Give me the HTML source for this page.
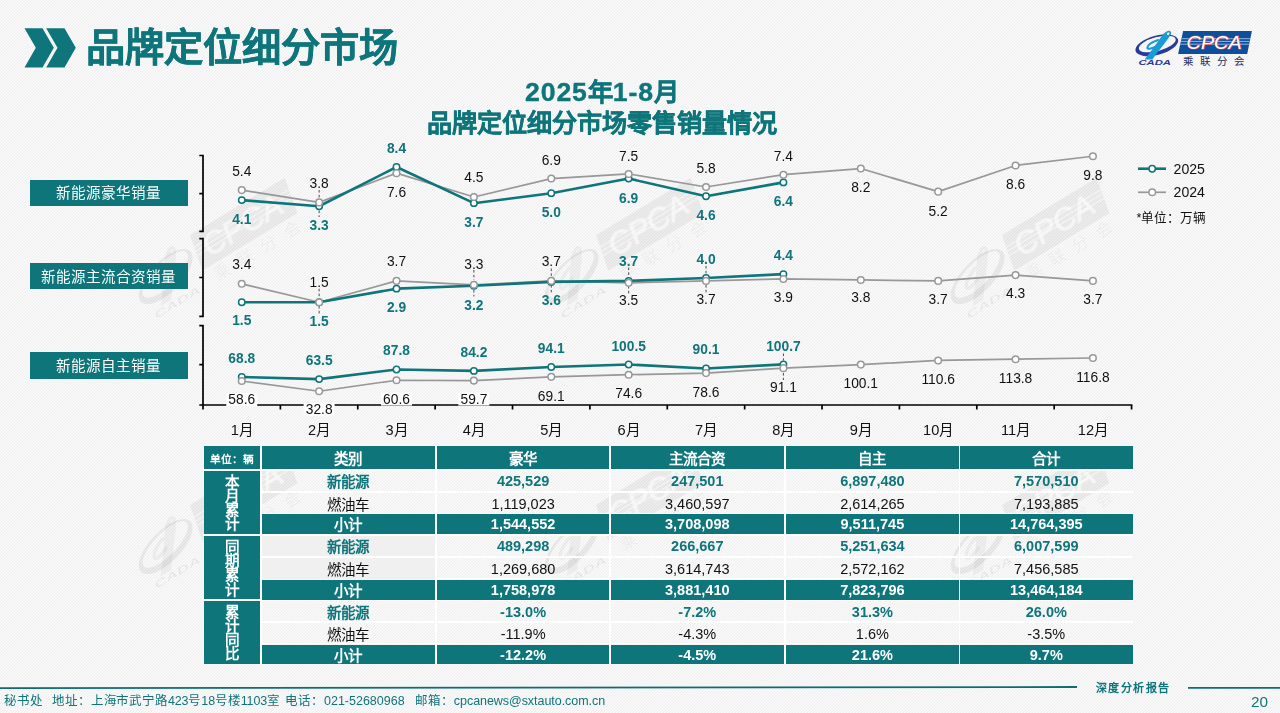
<!DOCTYPE html>
<html lang="zh-CN">
<head>
<meta charset="utf-8">
<title>品牌定位细分市场</title>
<style>
*{margin:0;padding:0;box-sizing:border-box;}
html,body{width:1280px;height:713px;overflow:hidden;}
body{font-family:"Liberation Sans",sans-serif;color:#000;background:#f5f5f5;}
#page{position:relative;width:1280px;height:713px;overflow:hidden;
  background:#f5f5f5;}
.abs{position:absolute;white-space:nowrap;}
#page *{-webkit-font-smoothing:antialiased;}
.abs,.cell,#chart,#foot{will-change:transform;}
.teal{color:#0e757b;}
#title{left:86px;top:20.3px;font-size:39.2px;letter-spacing:0.3px;-webkit-text-stroke:0.5px #0e757b;font-weight:bold;line-height:56px;letter-spacing:0;}
#ct1{left:402px;width:400px;text-align:center;top:74.6px;font-size:25.3px;font-weight:bold;line-height:34px;-webkit-text-stroke:0.4px #0e757b;}
#ct1 .d{font-size:26.6px;letter-spacing:0.9px;}
#ct2{left:402px;width:400px;text-align:center;top:104.6px;font-size:25.1px;font-weight:bold;line-height:36px;-webkit-text-stroke:0.4px #0e757b;}
.lbl{left:30.4px;width:157.8px;background:#0e757b;color:#fff;font-size:14.55px;text-align:center;padding-top:1px;}
svg{position:absolute;left:0;top:0;}
svg text{font-family:"Liberation Sans",sans-serif;}
/* table */
.wl{position:absolute;background:#fff;}
.cell{position:absolute;text-align:center;white-space:nowrap;font-size:14.5px;overflow:hidden;}
.hd{background:#0e757b;color:#fff;font-weight:bold;}
.nev{color:#0e757b;font-weight:bold;}
.reg{color:#111;}
.cell{padding-top:0.6px;}
.cell.cj{padding-top:2px;}
.cell.unit{padding-top:1.6px;}
.cell.vert{padding-top:1.5px;}
.unit{font-size:10.7px;}
.vert{display:flex;align-items:center;justify-content:center;}
.vert span{display:block;line-height:14.3px;font-size:14.6px;}
#foot{position:absolute;left:0;top:692px;font-size:12.5px;line-height:18px;color:#0e757b;}
#pageno{left:1250.6px;top:692.2px;font-size:15.3px;line-height:20px;color:#0e757b;}
#deep{left:1095.5px;top:679.6px;font-size:11px;line-height:16px;color:#0e757b;font-family:"Liberation Serif",serif;font-weight:bold;letter-spacing:1.4px;}
</style>
</head>
<body>
<div id="page">

<!-- SVG defs: logo -->
<svg width="0" height="0" style="position:absolute">
  <defs>
    <symbol id="logo" viewBox="0 0 150 60" overflow="visible">
      <!-- crescent ellipse ring -->
      <g transform="rotate(-15 36.8 25.3)">
        <path fill-rule="evenodd" fill="var(--c1)" d="M14.8 25.3 a22 9.6 0 1 0 44 0 a22 9.6 0 1 0 -44 0 Z M18.6 24.2 a19 6.9 0 1 0 38 0 a19 6.9 0 1 0 -38 0 Z"/>
      </g>
      <!-- swoosh -->
      <path d="M46.5 11.6 C49.5 9.6 52.3 11.6 50.6 14.8 C46.5 22 40 28.5 32.4 39.4 L24.6 39.4 C32 30.5 38.5 20.5 43.5 13.8 Z" fill="var(--c2)"/>
      <ellipse cx="48.2" cy="13.7" rx="1.5" ry="1.1" fill="var(--c8)" transform="rotate(-40 48.2 13.7)"/>
      <path d="M38 20 C32 22 27.6 25.2 27.3 27.8 C28 29.6 32 28.4 36.5 26.3" fill="none" stroke="var(--c2)" stroke-width="2.1" stroke-linecap="round"/>
      <!-- CADA -->
      <text x="18.4" y="44.9" font-size="6.4" font-weight="bold" font-style="italic" fill="var(--c1)" textLength="32.5" lengthAdjust="spacingAndGlyphs">CADA</text>
      <!-- parallelogram -->
      <path d="M63.1 11 L131.9 11 L127.2 34 L58.1 34 Z" fill="var(--c3)"/>
      <path d="M61.4 18.7 L130.3 18.7 M60.8 21.4 L129.7 21.4 M60.2 24.2 L129.2 24.2" stroke="var(--c5)" stroke-width="0.9" fill="none"/>
      <text x="66.6" y="29" font-size="19" font-style="italic" fill="var(--c6)" stroke="var(--c4)" stroke-width="1" paint-order="stroke" textLength="55" lengthAdjust="spacingAndGlyphs">CPCA</text>
      <text x="63.2" y="44.6" font-size="10.5" fill="var(--c7)" textLength="61" lengthAdjust="spacing">乘联分会</text>
    </symbol>
  </defs>
</svg>

<!-- BG -->
<svg width="1280" height="713" viewBox="0 0 1280 713" shape-rendering="crispEdges">
  <defs>
    <pattern id="stripe" width="3" height="3" patternUnits="userSpaceOnUse">
      <rect width="3" height="3" fill="#f0f0f0"/>
      <rect x="0" y="2" width="1" height="1" fill="#fbfbfb"/><rect x="1" y="1" width="1" height="1" fill="#fbfbfb"/><rect x="2" y="0" width="1" height="1" fill="#fbfbfb"/>
      <rect x="0" y="0" width="1" height="1" fill="#f5f5f5"/><rect x="1" y="2" width="1" height="1" fill="#f5f5f5"/><rect x="2" y="1" width="1" height="1" fill="#f5f5f5"/>
    </pattern>
  </defs>
  <rect width="1280" height="713" fill="url(#stripe)"/>
</svg>
<svg id="wm" width="1280" height="713" viewBox="0 0 1280 713" style="--c1:rgba(0,0,0,0.06);--c2:rgba(0,0,0,0.04);--c3:rgba(0,0,0,0.05);--c4:rgba(255,255,255,0.3);--c5:rgba(255,255,255,0.45);--c6:rgba(255,255,255,0.55);--c7:rgba(0,0,0,0.055);--c8:rgba(255,255,255,0.3);">
  <g transform="translate(93.9 272.5) rotate(-31.2) scale(1.61)"><use href="#logo" width="150" height="60"/></g>
  <g transform="translate(499.9 272.5) rotate(-31.2) scale(1.61)"><use href="#logo" width="150" height="60"/></g>
  <g transform="translate(905.9 272.5) rotate(-31.2) scale(1.61)"><use href="#logo" width="150" height="60"/></g>
  <g transform="translate(93.9 542.5) rotate(-31.2) scale(1.61)"><use href="#logo" width="150" height="60"/></g>
  <g transform="translate(499.9 542.5) rotate(-31.2) scale(1.61)"><use href="#logo" width="150" height="60"/></g>
  <g transform="translate(905.9 542.5) rotate(-31.2) scale(1.61)"><use href="#logo" width="150" height="60"/></g>
</svg>
<!-- /BG -->

<!-- header -->
<svg width="100" height="80" viewBox="0 0 100 80">
  <path d="M24.5 28.2 L42.5 28.2 L53.8 47.7 L42.5 67.5 L24.5 67.5 L35.8 47.7 Z" fill="#0e757b"/>
  <path d="M46.2 28.2 L64.5 28.2 L75.8 47.7 L64.5 67.5 L46.2 67.5 L57.5 47.7 Z" fill="#0e757b"/>
</svg>
<div id="title" class="abs teal">品牌定位细分市场</div>
<svg width="150" height="60" viewBox="0 0 150 60" style="left:1120px;top:20px;--c1:#2a3a9a;--c2:#1a9ad6;--c3:#0d4f9a;--c4:#e8404a;--c5:#9fc3e6;--c6:#ffffff;--c7:#1f2a5a;--c8:#f5f5f5;"><use href="#logo" width="150" height="60"/></svg>

<div id="ct1" class="abs teal"><span class="d">2025</span>年<span class="d">1-8</span>月</div>
<div id="ct2" class="abs teal">品牌定位细分市场零售销量情况</div>

<!-- CHART -->
<div class="abs lbl" style="top:180.2px;height:25.6px;line-height:25.6px">新能源豪华销量</div>
<div class="abs lbl" style="top:262.6px;height:26.4px;line-height:26.4px">新能源主流合资销量</div>
<div class="abs lbl" style="top:351.8px;height:26.5px;line-height:26.5px">新能源自主销量</div>
<svg id="chart" width="1280" height="713" viewBox="0 0 1280 713">
<g stroke="#000" stroke-width="1.7" fill="none">
<path d="M199.3 155.5 H203 V231.4 H199.3 M199.3 193.7 H203"/>
<path d="M199.3 238.7 H203 V316.3 H199.3 M199.3 277.5 H203"/>
<path d="M199.3 325.7 H203 V405 M199.3 364.7 H203"/>
<path d="M199.3 405 H1132.4"/>
<path d="M203.00 405 V409.6 M280.38 405 V409.6 M357.76 405 V409.6 M435.14 405 V409.6 M512.52 405 V409.6 M589.90 405 V409.6 M667.28 405 V409.6 M744.66 405 V409.6 M822.04 405 V409.6 M899.42 405 V409.6 M976.80 405 V409.6 M1054.18 405 V409.6 M1131.56 405 V409.6 "/>
</g>
<rect x="226.25" y="393.05" width="31" height="13" fill="#fdfdfd"/>
<rect x="303.63" y="403.05" width="31" height="13" fill="#fdfdfd"/>
<rect x="381.01" y="392.55" width="31" height="13" fill="#fdfdfd"/>
<rect x="458.39" y="392.55" width="31" height="13" fill="#fdfdfd"/>
<g stroke="#222" stroke-width="0.8" stroke-dasharray="2.6 2.2" fill="none">
<path d="M319.13 190 V198.5"/>
<path d="M319.13 210.5 V217"/>
<path d="M319.13 288.75 V297.5"/>
<path d="M319.13 306 V315"/>
<path d="M473.89 270 V280"/>
<path d="M473.89 290 V296.5"/>
<path d="M551.27 268.5 V277.5"/>
<path d="M551.27 285 V293"/>
<path d="M628.65 267.5 V276.5"/>
<path d="M628.65 286 V294"/>
<path d="M706.03 266 V273.5"/>
<path d="M706.03 285 V292.5"/>
<path d="M783.41 353.5 V360.5"/>
<path d="M783.41 373 V380"/>
</g>
<path d="M241.75 190.09 L319.13 202.41 L396.51 173.16 L473.89 197.02 L551.27 178.55 L628.65 173.93 L706.03 187.01 L783.41 174.70 L860.79 168.54 L938.17 191.63 L1015.55 165.46 L1092.93 156.23" fill="none" stroke="#989898" stroke-width="1.7" stroke-linejoin="round"/>
<path d="M241.75 200.10 L319.13 206.25 L396.51 167.00 L473.89 203.17 L551.27 193.17 L628.65 178.55 L706.03 196.25 L783.41 182.40" fill="none" stroke="#0e757b" stroke-width="2.6" stroke-linejoin="round"/>
<circle cx="241.75" cy="200.10" r="3.2" fill="#fff" stroke="#0e757b" stroke-width="1.5"/>
<circle cx="319.13" cy="206.25" r="3.2" fill="#fff" stroke="#0e757b" stroke-width="1.5"/>
<circle cx="396.51" cy="167.00" r="3.2" fill="#fff" stroke="#0e757b" stroke-width="1.5"/>
<circle cx="473.89" cy="203.17" r="3.2" fill="#fff" stroke="#0e757b" stroke-width="1.5"/>
<circle cx="551.27" cy="193.17" r="3.2" fill="#fff" stroke="#0e757b" stroke-width="1.5"/>
<circle cx="628.65" cy="178.55" r="3.2" fill="#fff" stroke="#0e757b" stroke-width="1.5"/>
<circle cx="706.03" cy="196.25" r="3.2" fill="#fff" stroke="#0e757b" stroke-width="1.5"/>
<circle cx="783.41" cy="182.40" r="3.2" fill="#fff" stroke="#0e757b" stroke-width="1.5"/>
<circle cx="241.75" cy="190.09" r="3.3" fill="#fff" stroke="#989898" stroke-width="1.5"/>
<circle cx="319.13" cy="202.41" r="3.3" fill="#fff" stroke="#989898" stroke-width="1.5"/>
<circle cx="396.51" cy="173.16" r="3.3" fill="#fff" stroke="#989898" stroke-width="1.5"/>
<circle cx="473.89" cy="197.02" r="3.3" fill="#fff" stroke="#989898" stroke-width="1.5"/>
<circle cx="551.27" cy="178.55" r="3.3" fill="#fff" stroke="#989898" stroke-width="1.5"/>
<circle cx="628.65" cy="173.93" r="3.3" fill="#fff" stroke="#989898" stroke-width="1.5"/>
<circle cx="706.03" cy="187.01" r="3.3" fill="#fff" stroke="#989898" stroke-width="1.5"/>
<circle cx="783.41" cy="174.70" r="3.3" fill="#fff" stroke="#989898" stroke-width="1.5"/>
<circle cx="860.79" cy="168.54" r="3.3" fill="#fff" stroke="#989898" stroke-width="1.5"/>
<circle cx="938.17" cy="191.63" r="3.3" fill="#fff" stroke="#989898" stroke-width="1.5"/>
<circle cx="1015.55" cy="165.46" r="3.3" fill="#fff" stroke="#989898" stroke-width="1.5"/>
<circle cx="1092.93" cy="156.23" r="3.3" fill="#fff" stroke="#989898" stroke-width="1.5"/>
<path d="M241.75 283.82 L319.13 302.25 L396.51 280.91 L473.89 284.79 L551.27 280.91 L628.65 282.85 L706.03 280.91 L783.41 278.97 L860.79 279.94 L938.17 280.91 L1015.55 275.09 L1092.93 280.91" fill="none" stroke="#989898" stroke-width="1.7" stroke-linejoin="round"/>
<path d="M241.75 302.25 L319.13 302.25 L396.51 288.67 L473.89 285.76 L551.27 281.88 L628.65 280.91 L706.03 278.00 L783.41 274.12" fill="none" stroke="#0e757b" stroke-width="2.6" stroke-linejoin="round"/>
<circle cx="241.75" cy="302.25" r="3.2" fill="#fff" stroke="#0e757b" stroke-width="1.5"/>
<circle cx="319.13" cy="302.25" r="3.2" fill="#fff" stroke="#0e757b" stroke-width="1.5"/>
<circle cx="396.51" cy="288.67" r="3.2" fill="#fff" stroke="#0e757b" stroke-width="1.5"/>
<circle cx="473.89" cy="285.76" r="3.2" fill="#fff" stroke="#0e757b" stroke-width="1.5"/>
<circle cx="551.27" cy="281.88" r="3.2" fill="#fff" stroke="#0e757b" stroke-width="1.5"/>
<circle cx="628.65" cy="280.91" r="3.2" fill="#fff" stroke="#0e757b" stroke-width="1.5"/>
<circle cx="706.03" cy="278.00" r="3.2" fill="#fff" stroke="#0e757b" stroke-width="1.5"/>
<circle cx="783.41" cy="274.12" r="3.2" fill="#fff" stroke="#0e757b" stroke-width="1.5"/>
<circle cx="241.75" cy="283.82" r="3.3" fill="#fff" stroke="#989898" stroke-width="1.5"/>
<circle cx="319.13" cy="302.25" r="3.3" fill="#fff" stroke="#989898" stroke-width="1.5"/>
<circle cx="396.51" cy="280.91" r="3.3" fill="#fff" stroke="#989898" stroke-width="1.5"/>
<circle cx="473.89" cy="284.79" r="3.3" fill="#fff" stroke="#989898" stroke-width="1.5"/>
<circle cx="551.27" cy="280.91" r="3.3" fill="#fff" stroke="#989898" stroke-width="1.5"/>
<circle cx="628.65" cy="282.85" r="3.3" fill="#fff" stroke="#989898" stroke-width="1.5"/>
<circle cx="706.03" cy="280.91" r="3.3" fill="#fff" stroke="#989898" stroke-width="1.5"/>
<circle cx="783.41" cy="278.97" r="3.3" fill="#fff" stroke="#989898" stroke-width="1.5"/>
<circle cx="860.79" cy="279.94" r="3.3" fill="#fff" stroke="#989898" stroke-width="1.5"/>
<circle cx="938.17" cy="280.91" r="3.3" fill="#fff" stroke="#989898" stroke-width="1.5"/>
<circle cx="1015.55" cy="275.09" r="3.3" fill="#fff" stroke="#989898" stroke-width="1.5"/>
<circle cx="1092.93" cy="280.91" r="3.3" fill="#fff" stroke="#989898" stroke-width="1.5"/>
<path d="M241.75 381.02 L319.13 391.23 L396.51 380.23 L473.89 380.59 L551.27 376.87 L628.65 374.70 L706.03 373.11 L783.41 368.17 L860.79 364.61 L938.17 360.46 L1015.55 359.19 L1092.93 358.01" fill="none" stroke="#989898" stroke-width="1.7" stroke-linejoin="round"/>
<path d="M241.75 376.99 L319.13 379.09 L396.51 369.48 L473.89 370.90 L551.27 366.98 L628.65 364.45 L706.03 368.57 L783.41 364.37" fill="none" stroke="#0e757b" stroke-width="2.6" stroke-linejoin="round"/>
<circle cx="241.75" cy="376.99" r="3.2" fill="#fff" stroke="#0e757b" stroke-width="1.5"/>
<circle cx="319.13" cy="379.09" r="3.2" fill="#fff" stroke="#0e757b" stroke-width="1.5"/>
<circle cx="396.51" cy="369.48" r="3.2" fill="#fff" stroke="#0e757b" stroke-width="1.5"/>
<circle cx="473.89" cy="370.90" r="3.2" fill="#fff" stroke="#0e757b" stroke-width="1.5"/>
<circle cx="551.27" cy="366.98" r="3.2" fill="#fff" stroke="#0e757b" stroke-width="1.5"/>
<circle cx="628.65" cy="364.45" r="3.2" fill="#fff" stroke="#0e757b" stroke-width="1.5"/>
<circle cx="706.03" cy="368.57" r="3.2" fill="#fff" stroke="#0e757b" stroke-width="1.5"/>
<circle cx="783.41" cy="364.37" r="3.2" fill="#fff" stroke="#0e757b" stroke-width="1.5"/>
<circle cx="241.75" cy="381.02" r="3.3" fill="#fff" stroke="#989898" stroke-width="1.5"/>
<circle cx="319.13" cy="391.23" r="3.3" fill="#fff" stroke="#989898" stroke-width="1.5"/>
<circle cx="396.51" cy="380.23" r="3.3" fill="#fff" stroke="#989898" stroke-width="1.5"/>
<circle cx="473.89" cy="380.59" r="3.3" fill="#fff" stroke="#989898" stroke-width="1.5"/>
<circle cx="551.27" cy="376.87" r="3.3" fill="#fff" stroke="#989898" stroke-width="1.5"/>
<circle cx="628.65" cy="374.70" r="3.3" fill="#fff" stroke="#989898" stroke-width="1.5"/>
<circle cx="706.03" cy="373.11" r="3.3" fill="#fff" stroke="#989898" stroke-width="1.5"/>
<circle cx="783.41" cy="368.17" r="3.3" fill="#fff" stroke="#989898" stroke-width="1.5"/>
<circle cx="860.79" cy="364.61" r="3.3" fill="#fff" stroke="#989898" stroke-width="1.5"/>
<circle cx="938.17" cy="360.46" r="3.3" fill="#fff" stroke="#989898" stroke-width="1.5"/>
<circle cx="1015.55" cy="359.19" r="3.3" fill="#fff" stroke="#989898" stroke-width="1.5"/>
<circle cx="1092.93" cy="358.01" r="3.3" fill="#fff" stroke="#989898" stroke-width="1.5"/>
<g font-size="15.4" text-anchor="middle">
<text transform="translate(241.75 176) scale(0.896 1)" fill="#111">5.4</text>
<text transform="translate(319.13 187.5) scale(0.896 1)" fill="#111">3.8</text>
<text transform="translate(396.51 197) scale(0.896 1)" fill="#111">7.6</text>
<text transform="translate(473.89 182) scale(0.896 1)" fill="#111">4.5</text>
<text transform="translate(551.27 164.5) scale(0.896 1)" fill="#111">6.9</text>
<text transform="translate(628.65 160.5) scale(0.896 1)" fill="#111">7.5</text>
<text transform="translate(706.03 173) scale(0.896 1)" fill="#111">5.8</text>
<text transform="translate(783.41 161.25) scale(0.896 1)" fill="#111">7.4</text>
<text transform="translate(860.79 191.75) scale(0.896 1)" fill="#111">8.2</text>
<text transform="translate(938.17 215.5) scale(0.896 1)" fill="#111">5.2</text>
<text transform="translate(1015.55 188.75) scale(0.896 1)" fill="#111">8.6</text>
<text transform="translate(1092.93 180) scale(0.896 1)" fill="#111">9.8</text>
<text transform="translate(241.75 223.85) scale(0.896 1)" fill="#0e757b" font-weight="bold">4.1</text>
<text transform="translate(319.13 229.6) scale(0.896 1)" fill="#0e757b" font-weight="bold">3.3</text>
<text transform="translate(396.51 153.1) scale(0.896 1)" fill="#0e757b" font-weight="bold">8.4</text>
<text transform="translate(473.89 226.85) scale(0.896 1)" fill="#0e757b" font-weight="bold">3.7</text>
<text transform="translate(551.27 217.35) scale(0.896 1)" fill="#0e757b" font-weight="bold">5.0</text>
<text transform="translate(628.65 202.6) scale(0.896 1)" fill="#0e757b" font-weight="bold">6.9</text>
<text transform="translate(706.03 220.1) scale(0.896 1)" fill="#0e757b" font-weight="bold">4.6</text>
<text transform="translate(783.41 206.1) scale(0.896 1)" fill="#0e757b" font-weight="bold">6.4</text>
<text transform="translate(241.75 268.75) scale(0.896 1)" fill="#111">3.4</text>
<text transform="translate(319.13 287) scale(0.896 1)" fill="#111">1.5</text>
<text transform="translate(396.51 266.25) scale(0.896 1)" fill="#111">3.7</text>
<text transform="translate(473.89 269.25) scale(0.896 1)" fill="#111">3.3</text>
<text transform="translate(551.27 265.5) scale(0.896 1)" fill="#111">3.7</text>
<text transform="translate(628.65 305.25) scale(0.896 1)" fill="#111">3.5</text>
<text transform="translate(706.03 303.5) scale(0.896 1)" fill="#111">3.7</text>
<text transform="translate(783.41 301.5) scale(0.896 1)" fill="#111">3.9</text>
<text transform="translate(860.79 302) scale(0.896 1)" fill="#111">3.8</text>
<text transform="translate(938.17 303.75) scale(0.896 1)" fill="#111">3.7</text>
<text transform="translate(1015.55 298) scale(0.896 1)" fill="#111">4.3</text>
<text transform="translate(1092.93 303.75) scale(0.896 1)" fill="#111">3.7</text>
<text transform="translate(241.75 325.1) scale(0.896 1)" fill="#0e757b" font-weight="bold">1.5</text>
<text transform="translate(319.13 325.6) scale(0.896 1)" fill="#0e757b" font-weight="bold">1.5</text>
<text transform="translate(396.51 312.1) scale(0.896 1)" fill="#0e757b" font-weight="bold">2.9</text>
<text transform="translate(473.89 309.6) scale(0.896 1)" fill="#0e757b" font-weight="bold">3.2</text>
<text transform="translate(551.27 304.6) scale(0.896 1)" fill="#0e757b" font-weight="bold">3.6</text>
<text transform="translate(628.65 265.6) scale(0.896 1)" fill="#0e757b" font-weight="bold">3.7</text>
<text transform="translate(706.03 264.1) scale(0.896 1)" fill="#0e757b" font-weight="bold">4.0</text>
<text transform="translate(783.41 260.1) scale(0.896 1)" fill="#0e757b" font-weight="bold">4.4</text>
<text transform="translate(241.75 404.25) scale(0.896 1)" fill="#111">58.6</text>
<text transform="translate(319.13 414.25) scale(0.896 1)" fill="#111">32.8</text>
<text transform="translate(396.51 403.75) scale(0.896 1)" fill="#111">60.6</text>
<text transform="translate(473.89 403.75) scale(0.896 1)" fill="#111">59.7</text>
<text transform="translate(551.27 400.5) scale(0.896 1)" fill="#111">69.1</text>
<text transform="translate(628.65 398) scale(0.896 1)" fill="#111">74.6</text>
<text transform="translate(706.03 396.5) scale(0.896 1)" fill="#111">78.6</text>
<text transform="translate(783.41 391.75) scale(0.896 1)" fill="#111">91.1</text>
<text transform="translate(860.79 388) scale(0.896 1)" fill="#111">100.1</text>
<text transform="translate(938.17 383.75) scale(0.896 1)" fill="#111">110.6</text>
<text transform="translate(1015.55 382.5) scale(0.896 1)" fill="#111">113.8</text>
<text transform="translate(1092.93 381.5) scale(0.896 1)" fill="#111">116.8</text>
<text transform="translate(241.75 363.1) scale(0.896 1)" fill="#0e757b" font-weight="bold">68.8</text>
<text transform="translate(319.13 364.6) scale(0.896 1)" fill="#0e757b" font-weight="bold">63.5</text>
<text transform="translate(396.51 355.1) scale(0.896 1)" fill="#0e757b" font-weight="bold">87.8</text>
<text transform="translate(473.89 356.6) scale(0.896 1)" fill="#0e757b" font-weight="bold">84.2</text>
<text transform="translate(551.27 352.6) scale(0.896 1)" fill="#0e757b" font-weight="bold">94.1</text>
<text transform="translate(628.65 350.6) scale(0.896 1)" fill="#0e757b" font-weight="bold">100.5</text>
<text transform="translate(706.03 354.35) scale(0.896 1)" fill="#0e757b" font-weight="bold">90.1</text>
<text transform="translate(783.41 350.6) scale(0.896 1)" fill="#0e757b" font-weight="bold">100.7</text>
</g>
<g font-size="14.6" text-anchor="middle" fill="#111">
<text x="242.25" y="434.8">1月</text>
<text x="319.63" y="434.8">2月</text>
<text x="397.01" y="434.8">3月</text>
<text x="474.39" y="434.8">4月</text>
<text x="551.77" y="434.8">5月</text>
<text x="629.15" y="434.8">6月</text>
<text x="706.53" y="434.8">7月</text>
<text x="783.91" y="434.8">8月</text>
<text x="861.29" y="434.8">9月</text>
<text x="938.67" y="434.8">10月</text>
<text x="1016.05" y="434.8">11月</text>
<text x="1093.43" y="434.8">12月</text>
</g>
<path d="M1138 168.7 H1166" stroke="#0e757b" stroke-width="2.6"/>
<circle cx="1152.2" cy="168.7" r="3.2" fill="#fff" stroke="#0e757b" stroke-width="1.5"/>
<path d="M1138 192.3 H1166" stroke="#989898" stroke-width="1.7"/>
<circle cx="1152.2" cy="192.3" r="3.3" fill="#fff" stroke="#989898" stroke-width="1.5"/>
<text x="1173.6" y="173.8" font-size="14.1" fill="#111">2025</text>
<text x="1173.6" y="197.2" font-size="14.1" fill="#111">2024</text>
<text x="1136.5" y="221.6" font-size="12.6" fill="#111">*单位：万辆</text>
</svg>
<!-- /CHART -->

<!-- TABLE -->
<div id="tbl">
<div class="wl" style="left:203px;top:468.8px;width:930.5px;height:2.2px"></div>
<div class="wl" style="left:262.2px;top:490.9px;width:871.3px;height:1.9px"></div>
<div class="wl" style="left:262.2px;top:513px;width:871.3px;height:1.3px"></div>
<div class="wl" style="left:203px;top:533.9px;width:930.5px;height:2.1px"></div>
<div class="wl" style="left:262.2px;top:555.8px;width:871.3px;height:1.8px"></div>
<div class="wl" style="left:262.2px;top:578.1px;width:871.3px;height:1.4px"></div>
<div class="wl" style="left:203px;top:599px;width:930.5px;height:2px"></div>
<div class="wl" style="left:262.2px;top:621.3px;width:871.3px;height:1.6px"></div>
<div class="wl" style="left:262.2px;top:643.2px;width:871.3px;height:1.3px"></div>
<div class="wl" style="left:260.3px;top:446px;width:1.9px;height:217.8px"></div>
<div class="wl" style="left:435px;top:446px;width:2px;height:217.8px"></div>
<div class="wl" style="left:609.2px;top:446px;width:2px;height:217.8px"></div>
<div class="wl" style="left:783.8px;top:446px;width:2px;height:217.8px"></div>
<div class="wl" style="left:958.6px;top:446px;width:1.8px;height:217.8px"></div>
<div class="cell hd unit" style="left:204px;top:446px;width:56.3px;height:22.8px;line-height:22.8px;">单位：辆</div>
<div class="cell hd cj" style="left:262.2px;top:446px;width:172.8px;height:22.8px;line-height:22.8px;">类别</div>
<div class="cell hd cj" style="left:437px;top:446px;width:172.2px;height:22.8px;line-height:22.8px;">豪华</div>
<div class="cell hd cj" style="left:611.2px;top:446px;width:172.6px;height:22.8px;line-height:22.8px;">主流合资</div>
<div class="cell hd cj" style="left:785.8px;top:446px;width:172.8px;height:22.8px;line-height:22.8px;">自主</div>
<div class="cell hd cj" style="left:960.4px;top:446px;width:172.6px;height:22.8px;line-height:22.8px;">合计</div>
<div class="cell hd vert" style="left:204px;top:471px;width:56.3px;height:62.9px;"><span>本<br>月<br>累<br>计</span></div>
<div class="cell hd vert" style="left:204px;top:536px;width:56.3px;height:63px;"><span>同<br>期<br>累<br>计</span></div>
<div class="cell hd vert" style="left:204px;top:601px;width:56.3px;height:62.8px;"><span>累<br>计<br>同<br>比</span></div>
<div class="cell nev cj" style="left:262.2px;top:471px;width:172.8px;height:19.9px;line-height:19.9px;">新能源</div>
<div class="cell nev" style="left:437px;top:471px;width:172.2px;height:19.9px;line-height:19.9px;">425,529</div>
<div class="cell nev" style="left:611.2px;top:471px;width:172.6px;height:19.9px;line-height:19.9px;">247,501</div>
<div class="cell nev" style="left:785.8px;top:471px;width:172.8px;height:19.9px;line-height:19.9px;">6,897,480</div>
<div class="cell nev" style="left:960.4px;top:471px;width:172.6px;height:19.9px;line-height:19.9px;">7,570,510</div>
<div class="cell reg cj" style="left:262.2px;top:492.8px;width:172.8px;height:20.2px;line-height:20.2px;">燃油车</div>
<div class="cell reg" style="left:437px;top:492.8px;width:172.2px;height:20.2px;line-height:20.2px;">1,119,023</div>
<div class="cell reg" style="left:611.2px;top:492.8px;width:172.6px;height:20.2px;line-height:20.2px;">3,460,597</div>
<div class="cell reg" style="left:785.8px;top:492.8px;width:172.8px;height:20.2px;line-height:20.2px;">2,614,265</div>
<div class="cell reg" style="left:960.4px;top:492.8px;width:172.6px;height:20.2px;line-height:20.2px;">7,193,885</div>
<div class="cell hd cj" style="left:262.2px;top:514.3px;width:172.8px;height:19.6px;line-height:19.6px;">小计</div>
<div class="cell hd" style="left:437px;top:514.3px;width:172.2px;height:19.6px;line-height:19.6px;">1,544,552</div>
<div class="cell hd" style="left:611.2px;top:514.3px;width:172.6px;height:19.6px;line-height:19.6px;">3,708,098</div>
<div class="cell hd" style="left:785.8px;top:514.3px;width:172.8px;height:19.6px;line-height:19.6px;">9,511,745</div>
<div class="cell hd" style="left:960.4px;top:514.3px;width:172.6px;height:19.6px;line-height:19.6px;">14,764,395</div>
<div class="cell nev cj" style="left:262.2px;top:536px;width:172.8px;height:19.8px;line-height:19.8px;background:#f0f0f0;">新能源</div>
<div class="cell nev" style="left:437px;top:536px;width:172.2px;height:19.8px;line-height:19.8px;">489,298</div>
<div class="cell nev" style="left:611.2px;top:536px;width:172.6px;height:19.8px;line-height:19.8px;">266,667</div>
<div class="cell nev" style="left:785.8px;top:536px;width:172.8px;height:19.8px;line-height:19.8px;">5,251,634</div>
<div class="cell nev" style="left:960.4px;top:536px;width:172.6px;height:19.8px;line-height:19.8px;">6,007,599</div>
<div class="cell reg cj" style="left:262.2px;top:557.6px;width:172.8px;height:20.5px;line-height:20.5px;background:#f0f0f0;">燃油车</div>
<div class="cell reg" style="left:437px;top:557.6px;width:172.2px;height:20.5px;line-height:20.5px;">1,269,680</div>
<div class="cell reg" style="left:611.2px;top:557.6px;width:172.6px;height:20.5px;line-height:20.5px;">3,614,743</div>
<div class="cell reg" style="left:785.8px;top:557.6px;width:172.8px;height:20.5px;line-height:20.5px;">2,572,162</div>
<div class="cell reg" style="left:960.4px;top:557.6px;width:172.6px;height:20.5px;line-height:20.5px;">7,456,585</div>
<div class="cell hd cj" style="left:262.2px;top:579.5px;width:172.8px;height:19.5px;line-height:19.5px;">小计</div>
<div class="cell hd" style="left:437px;top:579.5px;width:172.2px;height:19.5px;line-height:19.5px;">1,758,978</div>
<div class="cell hd" style="left:611.2px;top:579.5px;width:172.6px;height:19.5px;line-height:19.5px;">3,881,410</div>
<div class="cell hd" style="left:785.8px;top:579.5px;width:172.8px;height:19.5px;line-height:19.5px;">7,823,796</div>
<div class="cell hd" style="left:960.4px;top:579.5px;width:172.6px;height:19.5px;line-height:19.5px;">13,464,184</div>
<div class="cell nev cj" style="left:262.2px;top:601px;width:172.8px;height:20.3px;line-height:20.3px;">新能源</div>
<div class="cell nev" style="left:437px;top:601px;width:172.2px;height:20.3px;line-height:20.3px;">-13.0%</div>
<div class="cell nev" style="left:611.2px;top:601px;width:172.6px;height:20.3px;line-height:20.3px;">-7.2%</div>
<div class="cell nev" style="left:785.8px;top:601px;width:172.8px;height:20.3px;line-height:20.3px;">31.3%</div>
<div class="cell nev" style="left:960.4px;top:601px;width:172.6px;height:20.3px;line-height:20.3px;">26.0%</div>
<div class="cell reg cj" style="left:262.2px;top:622.9px;width:172.8px;height:20.3px;line-height:20.3px;">燃油车</div>
<div class="cell reg" style="left:437px;top:622.9px;width:172.2px;height:20.3px;line-height:20.3px;">-11.9%</div>
<div class="cell reg" style="left:611.2px;top:622.9px;width:172.6px;height:20.3px;line-height:20.3px;">-4.3%</div>
<div class="cell reg" style="left:785.8px;top:622.9px;width:172.8px;height:20.3px;line-height:20.3px;">1.6%</div>
<div class="cell reg" style="left:960.4px;top:622.9px;width:172.6px;height:20.3px;line-height:20.3px;">-3.5%</div>
<div class="cell hd cj" style="left:262.2px;top:644.5px;width:172.8px;height:19.3px;line-height:19.3px;">小计</div>
<div class="cell hd" style="left:437px;top:644.5px;width:172.2px;height:19.3px;line-height:19.3px;">-12.2%</div>
<div class="cell hd" style="left:611.2px;top:644.5px;width:172.6px;height:19.3px;line-height:19.3px;">-4.5%</div>
<div class="cell hd" style="left:785.8px;top:644.5px;width:172.8px;height:19.3px;line-height:19.3px;">21.6%</div>
<div class="cell hd" style="left:960.4px;top:644.5px;width:172.6px;height:19.3px;line-height:19.3px;">9.7%</div>
</div>
<!-- /TABLE -->

<!-- footer -->
<svg width="1280" height="713" viewBox="0 0 1280 713" style="pointer-events:none">
  <path d="M0 688.1 L1077 687 M1188 687.9 H1280" stroke="#0d6c74" stroke-width="1.8" fill="none"/>
</svg>
<div id="foot"><span class="abs" style="left:4px">秘书处</span><span class="abs" style="left:51.8px;letter-spacing:-0.12px">地址：上海市武宁路423号18号楼1103室</span><span class="abs" style="left:285px">电话：021-52680968</span><span class="abs" style="left:414.5px;letter-spacing:-0.05px">邮箱：cpcanews@sxtauto.com.cn</span></div>
<div id="deep" class="abs">深度分析报告</div>
<div id="pageno" class="abs">20</div>

</div>
</body>
</html>
